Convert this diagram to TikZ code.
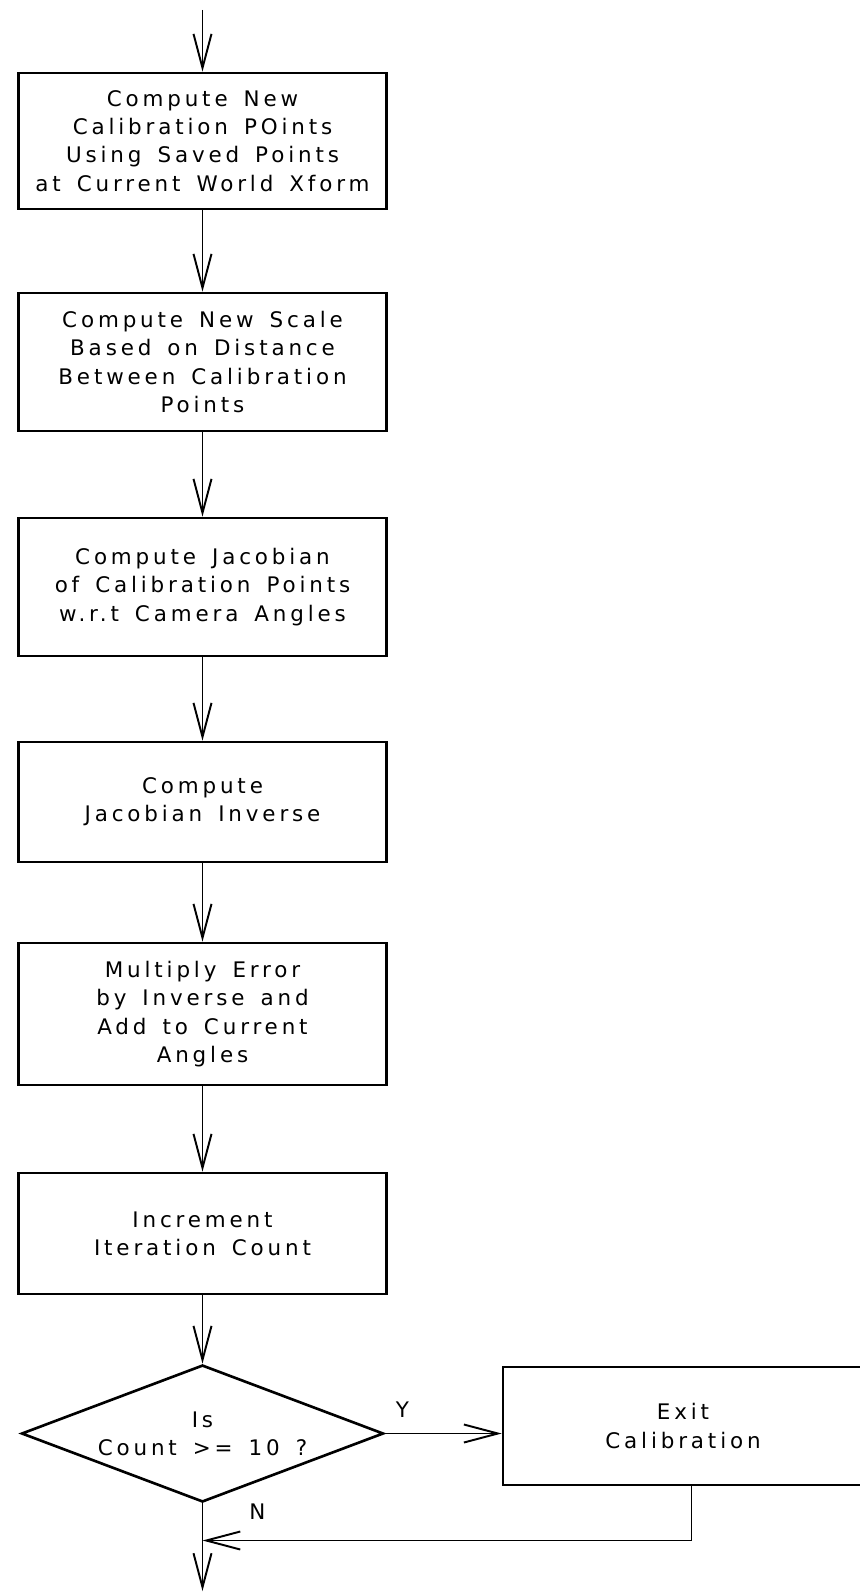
\documentclass[tikz,border=0pt]{standalone}
\usepackage{fontspec}
\setmainfont{DejaVu Sans}[LetterSpace=18,WordSpace=1.5]
\usetikzlibrary{shapes.geometric,arrows.meta,positioning}
\newcommand{\flowfont}{\fontsize{12.2}{16.1}\selectfont}
\tikzset{
  arr/.style={-{Straight Barb[length=0.68cm,width=0.36cm]},line width=1.1pt},
  box/.style={rectangle,draw,line width=1.5pt,minimum width=7.36cm,
    align=center,inner sep=0pt,font=\flowfont},
  dec/.style={diamond,draw,line width=1.5pt,shape aspect=2.64,
    minimum width=7.24cm,minimum height=2.74cm,inner sep=0pt},
  lbl/.style={inner sep=0pt,align=center,font=\flowfont},
}
\begin{document}
\begin{tikzpicture}
\useasboundingbox (0,0) rectangle (17.18,-31.88);

\coordinate (in) at (4.05,-0.2);
\node[box,minimum height=2.72cm] (pts) at (4.05,-2.82) {Compute New\\Calibration POints\\Using Saved Points\\at Current World Xform};
\node[box,minimum height=2.76cm] (scl) at (4.05,-7.24) {Compute New Scale\\Based on Distance\\Between Calibration\\Points};
\node[box,minimum height=2.76cm] (jac) at (4.05,-11.74) {Compute Jacobian\\of Calibration Points\\w.r.t Camera Angles};
\node[box,minimum height=2.4cm] (inv) at (4.05,-16.04) {Compute\\Jacobian Inverse};
\node[box,minimum height=2.84cm] (mul) at (4.05,-20.28) {Multiply Error\\by Inverse and\\Add to Current\\Angles};
\node[box,minimum height=2.42cm] (inc) at (4.05,-24.67) {Increment\\Iteration Count};
\node[dec] (cnt) at (4.05,-28.67) {};
\node[lbl] (cnttxt) at (cnt.center) {Is\\Count >= 10 ?};
\node[box,minimum width=7.2cm,minimum height=2.36cm] (ext) at (13.66,-28.52) {Exit\\Calibration};
\node[lbl] (nlab) at (5.15,-30.24) {N};
\coordinate (join) at (13.83,-30.81);
\coordinate (out) at (4.05,-31.82);

\draw[arr] (in) -- (pts);
\draw[arr] (pts) -- (scl);
\draw[arr] (scl) -- (jac);
\draw[arr] (jac) -- (inv);
\draw[arr] (inv) -- (mul);
\draw[arr] (mul) -- (inc);
\draw[arr] (inc) -- (cnt);
\draw[arr] (cnt.east) -- node[lbl,pos=0.15,above=0.3cm]{Y} (cnt.east -| ext.west);
\draw[arr] (cnt.south) -- (out);
\draw[arr] (ext.south -| join) -- (join) -- (join -| out);
\end{tikzpicture}
\end{document}
